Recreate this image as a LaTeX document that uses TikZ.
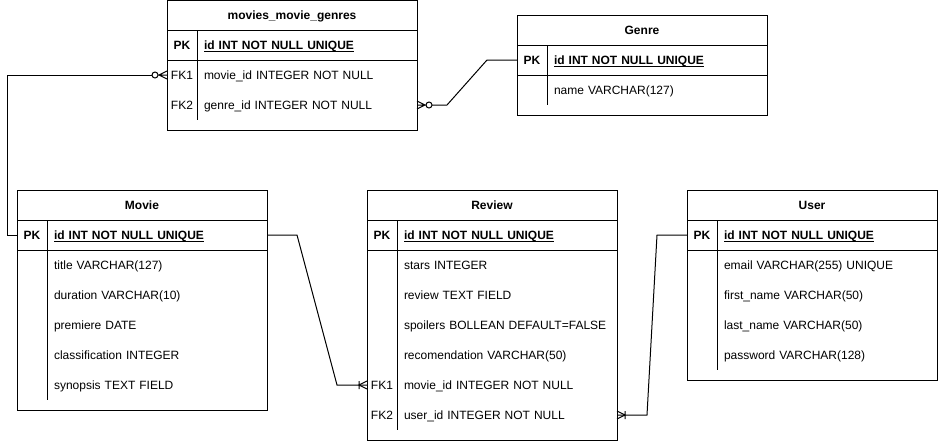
\documentclass[tikz,border=0pt,12pt]{standalone}
\usepackage{fontspec}
\setmainfont{Liberation Sans}
\usetikzlibrary{arrows.meta,calc}

% crow's foot ends
\pgfdeclarearrow{
  name = zeromany,
  setup code = {
    \pgfarrowssettipend{0pt}
    \pgfarrowssetlineend{-15pt}
    \pgfarrowssetbackend{-15pt}
    \pgfarrowshullpoint{0pt}{4pt}
    \pgfarrowshullpoint{0pt}{-4pt}
    \pgfarrowshullpoint{-15pt}{3pt}
    \pgfarrowshullpoint{-15pt}{-3pt}
  },
  drawing code = {
    \pgfpathmoveto{\pgfqpoint{0pt}{4pt}}
    \pgfpathlineto{\pgfqpoint{-8pt}{0pt}}
    \pgfpathlineto{\pgfqpoint{0pt}{-4pt}}
    \pgfpathmoveto{\pgfqpoint{-9pt}{0pt}}
    \pgfpathlineto{\pgfqpoint{0pt}{0pt}}
    \pgfpathcircle{\pgfqpoint{-12pt}{0pt}}{3pt}
    \pgfusepathqstroke
  }
}
\pgfdeclarearrow{
  name = onemany,
  setup code = {
    \pgfarrowssettipend{0pt}
    \pgfarrowssetlineend{0pt}
    \pgfarrowssetbackend{-8pt}
    \pgfarrowshullpoint{0pt}{4pt}
    \pgfarrowshullpoint{0pt}{-4pt}
    \pgfarrowshullpoint{-8pt}{4pt}
    \pgfarrowshullpoint{-8pt}{-4pt}
  },
  drawing code = {
    \pgfpathmoveto{\pgfqpoint{0pt}{4pt}}
    \pgfpathlineto{\pgfqpoint{-8pt}{0pt}}
    \pgfpathlineto{\pgfqpoint{0pt}{-4pt}}
    \pgfpathmoveto{\pgfqpoint{-8pt}{4pt}}
    \pgfpathlineto{\pgfqpoint{-8pt}{-4pt}}
    \pgfusepathqstroke
  }
}

\begin{document}
\begin{tikzpicture}[x=1pt, y=-1pt, line width=1pt]
\tikzstyle{table} = [draw=black, anchor=north west, minimum width=250pt, inner sep=0pt, outer sep=0pt]
\tikzstyle{head} = [table, minimum height=30pt, text height=12pt, text depth=3pt, font=\bfseries]
\tikzstyle{keyrow} = [table, minimum height=30pt]
\tikzstyle{key} = [minimum width=30pt, minimum height=30pt, text height=12pt, text depth=3pt, inner sep=0pt, outer sep=0pt]
\tikzstyle{field} = [anchor=west, text width=206pt, inner xsep=7pt, inner ysep=0pt, outer sep=0pt, minimum height=30pt, text height=12pt, text depth=3pt, align=left]
\tikzstyle{relation} = [draw=black]

\useasboundingbox (0,0) rectangle (938,442);

% movies_movie_genres
\node[table, minimum height=130pt] (mmg) at (167,0) {};
\node[head] (mmghead) at (167,0) {movies\_movie\_genres};
\node[keyrow] (mmgkeyrow) at (167,30) {};
\node[key, font=\bfseries] (mmgpkkey) at (182,45) {PK};
\node[field, font=\bfseries] (mmgpk) at (197,45) {\underline{\smash{id INT NOT NULL UNIQUE}}};
\node[key] (mmgfk1key) at (182,75) {FK1};
\node[field] (mmgfk1) at (197,75) {movie\_id INTEGER NOT NULL};
\node[key] (mmgfk2key) at (182,105) {FK2};
\node[field] (mmgfk2) at (197,105) {genre\_id INTEGER NOT NULL};
\draw (mmgpkkey.north east) -- (mmgfk2.south west);

% Genre
\node[table, minimum height=100pt] (genre) at (517,15) {};
\node[head] (genrehead) at (517,15) {Genre};
\node[keyrow] (genrekeyrow) at (517,45) {};
\node[key, font=\bfseries] (genrepkkey) at (532,60) {PK};
\node[field, font=\bfseries] (genrepk) at (547,60) {\underline{\smash{id INT NOT NULL UNIQUE}}};
\node[field] (genrename) at (547,90) {name VARCHAR(127)};
\draw (genrepkkey.north east) -- (genrename.south west);

% Movie
\node[table, minimum height=220pt] (movie) at (17,190) {};
\node[head] (moviehead) at (17,190) {Movie};
\node[keyrow] (moviekeyrow) at (17,220) {};
\node[key, font=\bfseries] (moviepkkey) at (32,235) {PK};
\node[field, font=\bfseries] (moviepk) at (47,235) {\underline{\smash{id INT NOT NULL UNIQUE}}};
\node[field] (movietitle) at (47,265) {title VARCHAR(127)};
\node[field] (movieduration) at (47,295) {duration VARCHAR(10)};
\node[field] (moviepremiere) at (47,325) {premiere DATE};
\node[field] (movieclass) at (47,355) {classification INTEGER};
\node[field] (moviesynopsis) at (47,385) {synopsis TEXT FIELD};
\draw (moviepkkey.north east) -- (moviesynopsis.south west);

% Review
\node[table, minimum height=250pt] (review) at (367,190) {};
\node[head] (reviewhead) at (367,190) {Review};
\node[keyrow] (reviewkeyrow) at (367,220) {};
\node[key, font=\bfseries] (reviewpkkey) at (382,235) {PK};
\node[field, font=\bfseries] (reviewpk) at (397,235) {\underline{\smash{id INT NOT NULL UNIQUE}}};
\node[field] (reviewstars) at (397,265) {stars INTEGER};
\node[field] (reviewtext) at (397,295) {review TEXT FIELD};
\node[field] (reviewspoilers) at (397,325) {spoilers BOLLEAN DEFAULT=FALSE};
\node[field] (reviewrecom) at (397,355) {recomendation VARCHAR(50)};
\node[key] (reviewfk1key) at (382,385) {FK1};
\node[field] (reviewfk1) at (397,385) {movie\_id INTEGER NOT NULL};
\node[key] (reviewfk2key) at (382,415) {FK2};
\node[field] (reviewfk2) at (397,415) {user\_id INTEGER NOT NULL};
\draw (reviewpkkey.north east) -- (reviewfk2.south west);

% User
\node[table, minimum height=190pt] (user) at (687,190) {};
\node[head] (userhead) at (687,190) {User};
\node[keyrow] (userkeyrow) at (687,220) {};
\node[key, font=\bfseries] (userpkkey) at (702,235) {PK};
\node[field, font=\bfseries] (userpk) at (717,235) {\underline{\smash{id INT NOT NULL UNIQUE}}};
\node[field] (useremail) at (717,265) {email VARCHAR(255) UNIQUE};
\node[field] (userfirst) at (717,295) {first\_name VARCHAR(50)};
\node[field] (userlast) at (717,325) {last\_name VARCHAR(50)};
\node[field] (userpassword) at (717,355) {password VARCHAR(128)};
\draw (userpkkey.north east) -- (userpassword.south west);

% relations
\draw[relation, -zeromany] (moviepkkey.west) -- ++(-10,0) |- (mmgfk1key.west);
\draw[relation, -zeromany] (genrepkkey.west) -- ++(-30,0) -- ($(mmgfk2.east)+(30,0)$) -- (mmgfk2.east);
\draw[relation, -onemany] (moviepk.east) -- ++(30,0) -- ($(reviewfk1key.west)+(-30,0)$) -- (reviewfk1key.west);
\draw[relation, -onemany] (userpkkey.west) -- ++(-30,0) -- ($(reviewfk2.east)+(30,0)$) -- (reviewfk2.east);
\end{tikzpicture}
\end{document}
